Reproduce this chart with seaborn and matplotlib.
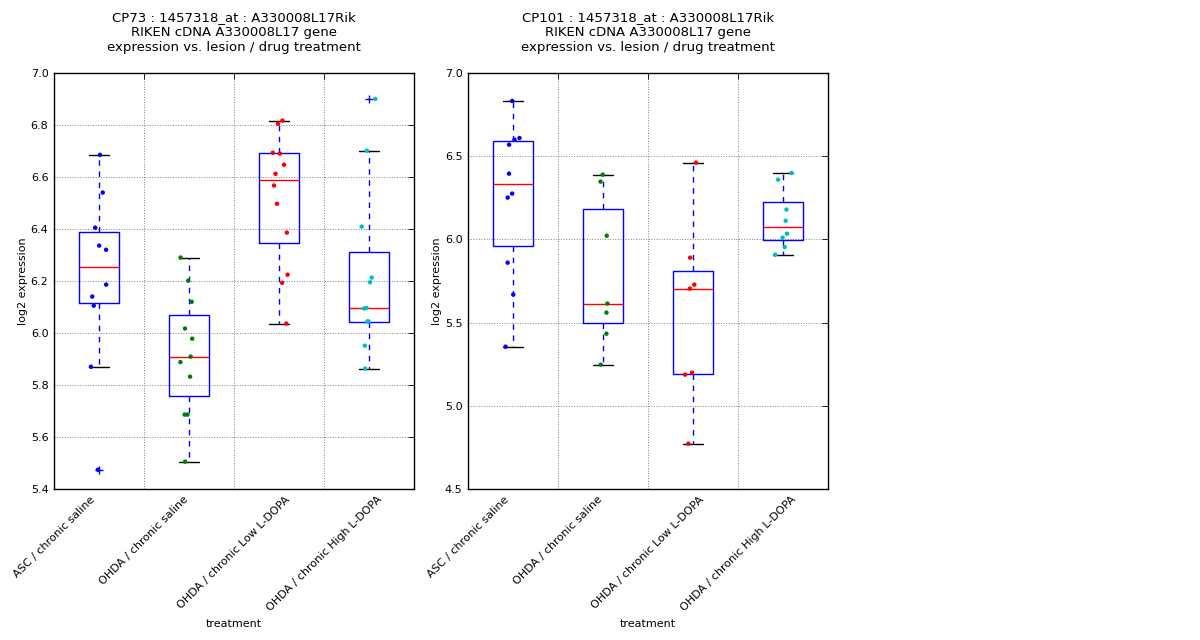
import numpy as np
import pandas as pd
import seaborn as sns
import matplotlib
matplotlib.use("Agg")
import matplotlib.pyplot as plt

treatments = ["ASC / chronic saline", "OHDA / chronic saline",
              "OHDA / chronic Low L-DOPA", "OHDA / chronic High L-DOPA"]

# CP73 values per group
cp73_asc = [6.685, 6.540, 6.405, 6.336, 6.320, 6.186, 6.140, 6.105, 5.870, 5.474]
cp73_ohda = [6.290, 6.201, 6.120, 6.017, 5.978, 5.909, 5.888, 5.832, 5.686, 5.686, 5.505]
cp73_low = [6.817, 6.805, 6.693, 6.690, 6.647, 6.612, 6.567, 6.497, 6.386, 6.224, 6.193, 6.036]
cp73_high = [6.900, 6.701, 6.409, 6.213, 6.195, 6.096, 6.094, 6.044, 6.044, 5.951, 5.863]

# CP101 values per group
cp101_asc = [6.832, 6.609, 6.599, 6.569, 6.395, 6.275, 6.251, 5.860, 5.668, 5.355]
cp101_ohda = [6.389, 6.347, 6.022, 5.614, 5.560, 5.433, 5.247]
cp101_low = [6.461, 5.890, 5.728, 5.704, 5.199, 5.187, 4.772]
cp101_high = [6.399, 6.359, 6.179, 6.112, 6.034, 6.010, 5.954, 5.908]

titles = ["CP73 : 1457318_at : A330008L17Rik\nRIKEN cDNA A330008L17 gene\nexpression vs. lesion / drug treatment",
          "CP101 : 1457318_at : A330008L17Rik\nRIKEN cDNA A330008L17 gene\nexpression vs. lesion / drug treatment"]
point_colors = ["#0000ff", "#008000", "#ff0000", "#00bfbf"]


def make_df(groups):
    rows = []
    for t, vals in zip(treatments, groups):
        for v in vals:
            rows.append((t, v))
    return pd.DataFrame(rows, columns=["treatment", "expr"])


df73 = make_df([cp73_asc, cp73_ohda, cp73_low, cp73_high])
df101 = make_df([cp101_asc, cp101_ohda, cp101_low, cp101_high])

sns.set_theme(style="white")
plt.rcParams["font.family"] = ["DejaVu Sans"]
plt.rcParams.update({"text.color": "black", "axes.labelcolor": "black",
                     "xtick.color": "black", "ytick.color": "black"})

fig = plt.figure(figsize=(12, 6.4), dpi=100)
ax1 = fig.add_axes([0.045, 0.236, 0.3, 0.65])
ax2 = fig.add_axes([0.39, 0.236, 0.3, 0.65])

np.random.seed(3)
for ax, df, title, ylim, yticks in [
        (ax1, df73, titles[0], (5.4, 7.0), np.arange(5.4, 7.01, 0.2)),
        (ax2, df101, titles[1], (4.5, 7.0), np.arange(4.5, 7.01, 0.5))]:
    sns.boxplot(data=df, x="treatment", y="expr", order=treatments, ax=ax,
                width=0.45, fill=False, color="#0000ff", linewidth=1, whis=1.5,
                boxprops=dict(color="#0000ff"),
                medianprops=dict(color="#ff0000"),
                whiskerprops=dict(color="#0000ff", linestyle="--", dashes=(4, 4)),
                capprops=dict(color="black"),
                flierprops=dict(marker="+", markeredgecolor="#0000ff", markersize=6))
    sns.stripplot(data=df, x="treatment", y="expr", order=treatments, ax=ax,
                  hue="treatment", hue_order=treatments, palette=point_colors,
                  jitter=0.1, size=3.2, linewidth=0, legend=False, zorder=3)
    ax.set_ylim(*ylim)
    ax.set_yticks(yticks)
    ax.set_yticklabels([f"{t:.1f}" for t in yticks])
    ax.set_xlim(-0.5, 3.5)
    # the original puts its tick labels (and grid) half a step to the left
    ax.set_xticks([-0.5, 0.5, 1.5, 2.5])
    ax.set_xticklabels(treatments, rotation=45, ha="center")
    ax.grid(True, color="#808080", linestyle=":", linewidth=0.7)
    ax.set_axisbelow(True)
    ax.tick_params(direction="in", top=True, right=True, length=4,
                   width=0.6, labelsize=8, pad=4, color="black")
    for s in ax.spines.values():
        s.set_color("black")
        s.set_linewidth(1)
    ax.set_title(title, fontsize=9.5, pad=16)
    ax.set_xlabel("treatment", fontsize=8)
    ax.set_ylabel("log2 expression", fontsize=8, labelpad=2)

fig.savefig("out.png", dpi=100)
